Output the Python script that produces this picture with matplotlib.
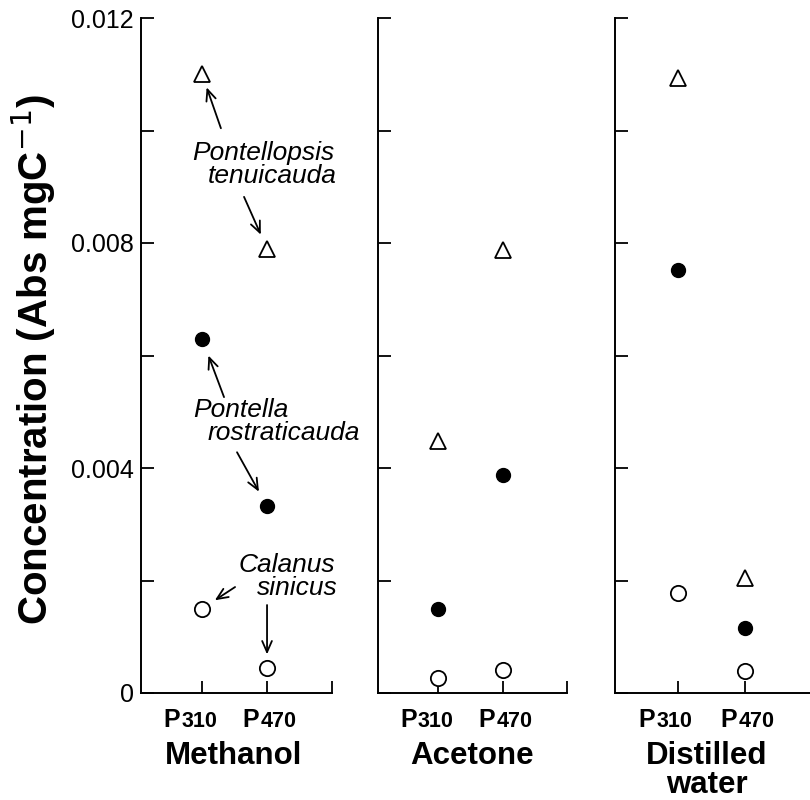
import matplotlib
matplotlib.use("Agg")
import matplotlib.pyplot as plt
import numpy as np

plt.rcParams['font.family'] = ['Liberation Sans', 'DejaVu Sans']

solvents = ["Methanol", "Acetone", "Distilled\nwater"]
pigments = ["310", "470"]
# values for each solvent: [P310, P470]
pontellopsis = [[0.0110, 0.0079], [0.00448, 0.00788], [0.01093, 0.00204]]
pontella = [[0.0063, 0.00332], [0.0015, 0.00388], [0.00752, 0.00116]]
calanus = [[0.0015, 0.00044], [0.00027, 0.00041], [0.00178, 0.00039]]

yticks = [0, 0.002, 0.004, 0.006, 0.008, 0.010, 0.012]
ytick_labels = ["0", "", "0.004", "", "0.008", "", "0.012"]

W, H = 810, 800
fig = plt.figure(figsize=(W / 100, H / 100), dpi=100)

bottom = 1 - 693 / H
top = 1 - 18 / H
panels = [(141, 332), (378, 567), (615, 812)]
name_x = [1.485, 1.53, 1.43]
xs = np.array([1, 2])

axes = []
for i, (l, r) in enumerate(panels):
    ax = fig.add_axes([l / W, bottom, (r - l) / W, top - bottom])
    axes.append(ax)
    ax.set_xlim(0.06, 3)
    ax.set_ylim(0, 0.012)
    for s in ["top", "right"]:
        ax.spines[s].set_visible(False)
    for s in ["left", "bottom"]:
        ax.spines[s].set_linewidth(1.4)
    ax.set_yticks(yticks)
    if i == 0:
        ax.set_yticklabels(ytick_labels, fontsize=18)
    else:
        ax.set_yticklabels([])
    ax.set_xticks([1, 2, 3])
    ax.set_xticklabels([])
    ax.tick_params(direction="in", length=9, width=1.3, pad=5)

    ax.plot(xs, pontellopsis[i], linestyle="none", marker="^", ms=11,
            mfc="white", mec="black", mew=1.3, clip_on=False, zorder=5)
    ax.plot(xs, pontella[i], linestyle="none", marker="o", ms=10,
            mfc="black", mec="black", clip_on=False, zorder=5)
    ax.plot(xs, calanus[i], linestyle="none", marker="o", ms=11,
            mfc="white", mec="black", mew=1.3, clip_on=False, zorder=5)

    tr = ax.get_xaxis_transform()
    offs = [-0.34, -0.12]
    for x, p, o in zip(xs, pigments, offs):
        ax.text(x + o, -34 / 675, "P", transform=tr, ha="right", va="baseline",
                fontsize=18, fontweight="bold", clip_on=False)
        ax.text(x + o + 0.02, -34 / 675, p, transform=tr, ha="left", va="baseline",
                fontsize=15.5, fontweight="bold", clip_on=False)
    lines = solvents[i].split("\n")
    for k, line in enumerate(lines):
        ax.text(name_x[i], (-71 - 29 * k) / 675, line, transform=tr, ha="center",
                va="baseline", fontsize=22.5, fontweight="bold", clip_on=False)

fig.text(34 / W, 1 - 360 / H, "Concentration (Abs mgC$^{-1}$)", rotation=90,
         ha="center", va="center", fontsize=29, fontweight="bold")

ax = axes[0]
it = dict(fontsize=19, style="italic", ha="left", va="baseline", clip_on=False)
ax.text(0.846, 0.009476, "Pontellopsis", **it)
ax.text(1.092, 0.009067, "tenuicauda", **it)
ax.text(0.862, 0.004907, "Pontella", **it)
ax.text(1.092, 0.004498, "rostraticauda", **it)
ax.text(1.554, 0.002151, "Calanus", **it)
ax.text(1.846, 0.001742, "sinicus", **it)

ap = dict(arrowstyle="->,head_length=0.8,head_width=0.35", lw=1.3, color="black",
          shrinkA=0)
arrows = [
    ((1, pontellopsis[0][0]), (1.29, 0.01004), 10),
    ((2, pontellopsis[0][1]), (1.646, 0.00882), 11),
    ((1, pontella[0][0]), (1.338, 0.00526), 13),
    ((2, pontella[0][1]), (1.538, 0.00428), 12),
    ((1, calanus[0][0]), (1.508, 0.001884), 11),
    ((2, calanus[0][1]), (2.0, 0.001564), 10),
]
for xy, xytext, sh in arrows:
    ax.annotate("", xy=xy, xytext=xytext,
                arrowprops=dict(ap, shrinkB=sh), annotation_clip=False)

fig.savefig("out.png", dpi=100)
